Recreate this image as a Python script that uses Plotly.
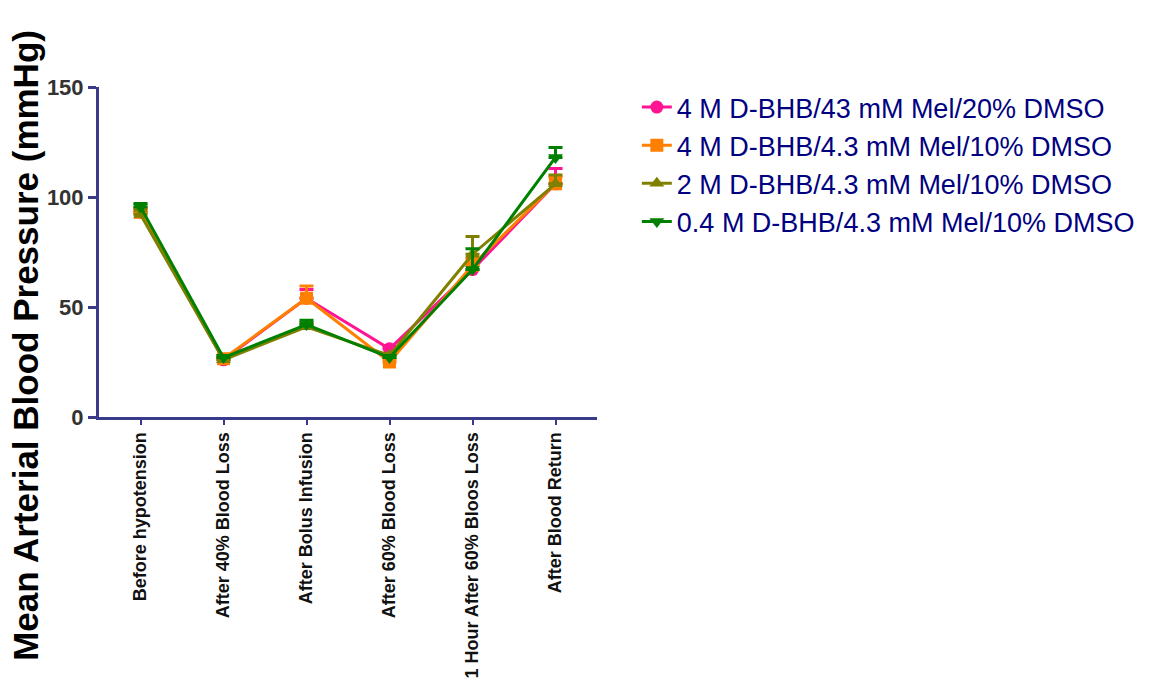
import plotly.graph_objects as go

categories = [
    "Before hypotension",
    "After 40% Blood Loss",
    "After Bolus Infusion",
    "After 60% Blood Loss",
    "1 Hour After 60% Bloos Loss",
    "After Blood Return",
]

series_names = [
    "4 M D-BHB/43 mM Mel/20% DMSO",
    "4 M D-BHB/4.3 mM Mel/10% DMSO",
    "2 M D-BHB/4.3 mM Mel/10% DMSO",
    "0.4 M D-BHB/4.3 mM Mel/10% DMSO",
]

mean_pink = [93, 26, 54, 31, 67, 106]
mean_orange = [93, 26.5, 54, 25, 69, 106]
mean_olive = [92, 26, 41, 28, 74, 106]
mean_green = [95.5, 27, 42, 27, 67, 118]

err_pink = [2, 1, 4, 1, 3, 7]
err_orange = [2, 1, 5.5, 1, 3, 3]
err_olive = [2, 1, 1.5, 1, 8, 4]
err_green = [1.5, 1, 2, 1, 9.5, 4.5]

colors = ["#FF1493", "#FF8000", "#808000", "#008000"]
symbols = ["circle", "square", "triangle-up", "triangle-down"]

means = [mean_pink, mean_orange, mean_olive, mean_green]
errs = [err_pink, err_orange, err_olive, err_green]

FONT = "Liberation Sans, Arial, sans-serif"

fig = go.Figure()
for i, (name, m, e, c, s) in enumerate(zip(series_names, means, errs, colors, symbols)):
    fig.add_trace(go.Scatter(
        x=categories, y=m, name=name, mode="lines+markers",
        legendgroup=f"g{i}",
        line=dict(color=c, width=3),
        marker=dict(color=c, symbol=s, size=13),
        error_y=dict(type="data", array=e, arrayminus=[0] * len(e),
                     symmetric=False, color=c, thickness=3, width=7),
        cliponaxis=False,
    ))

axis_color = "#3A3A8C"

fig.update_layout(
    width=1153, height=681,
    margin=dict(l=99, r=556, t=87, b=264),
    paper_bgcolor="white", plot_bgcolor="white",
    font=dict(family=FONT),
    showlegend=True,
    legend=dict(
        x=1.08, y=1.012, xanchor="left", yanchor="top",
        font=dict(size=27, color="#000080", family=FONT),
        itemwidth=30, tracegroupgap=0, traceorder="grouped",
        bgcolor="rgba(0,0,0,0)",
    ),
    xaxis=dict(
        type="category", range=[-0.5, 5.5], automargin=False,
        showline=True, linecolor=axis_color, linewidth=3,
        ticks="outside", ticklen=5, tickwidth=2, tickcolor=axis_color,
        tickangle=-90, showgrid=False, zeroline=False,
        tickfont=dict(size=18, color="#111111", family=FONT, weight="bold"),
    ),
    yaxis=dict(
        range=[0, 150], tickvals=[0, 50, 100, 150], automargin=False,
        showline=True, linecolor=axis_color, linewidth=3,
        ticks="outside", ticklen=8, tickwidth=3, tickcolor=axis_color,
        showgrid=False, zeroline=False,
        tickfont=dict(size=22, color="#333333", family=FONT, weight="bold"),
    ),
    annotations=[dict(
        text="Mean Arterial Blood Pressure (mmHg)",
        xref="paper", yref="paper", x=-0.149, y=0.218,
        xanchor="center", yanchor="middle", textangle=-90, showarrow=False,
        font=dict(size=35, color="#000000", family=FONT, weight="bold"),
    )],
)

fig.write_html("out.html")
